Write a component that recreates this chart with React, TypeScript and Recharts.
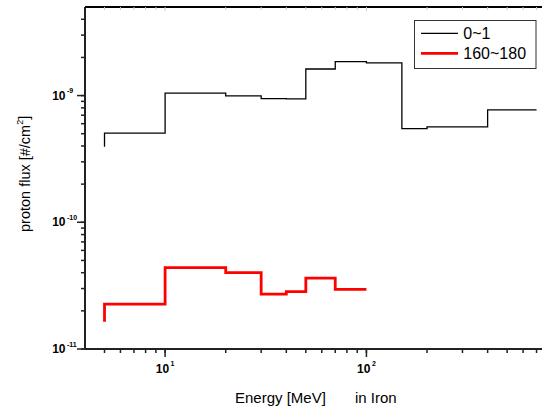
import React from 'react';
import { LineChart, Line, XAxis, YAxis, ReferenceLine } from 'recharts';

// ---- data ----
const energyBlack = [5, 10, 20, 30, 40, 50, 70, 100, 150, 200, 400, 700];
const fluxBlack = [3.94e-10, 5.05e-10, 1.045e-9, 0.995e-9, 0.947e-9, 0.942e-9, 1.62e-9, 1.85e-9, 1.81e-9, 5.49e-10, 5.66e-10, 7.71e-10];
const energyRed = [5, 10, 20, 30, 40, 50, 70, 100];
const fluxRed = [1.64e-11, 2.26e-11, 4.39e-11, 4.01e-11, 2.71e-11, 2.84e-11, 3.62e-11, 2.96e-11];
const seriesNames = ['0~1', '160~180'];
const seriesColors = ['#000000', '#ff0000'];
const seriesWidths = [1.3, 2.8];
const xTicks = [5, 6, 7, 8, 9, 10, 20, 30, 40, 50, 60, 70, 80, 90, 100, 200, 300, 400, 500, 600, 700];
const yTicks = [
  1e-11, 2e-11, 3e-11, 4e-11, 5e-11, 6e-11, 7e-11, 8e-11, 9e-11,
  1e-10, 2e-10, 3e-10, 4e-10, 5e-10, 6e-10, 7e-10, 8e-10, 9e-10,
  1e-9, 2e-9, 3e-9, 4e-9,
];
const xDomain = [4, 745];
const yDomain = [1e-11, 5e-9];
const xTitle = ['Energy [MeV]', 'in Iron'];
const yTitle = ['proton flux [#/cm', '2', ']'];

const blackData = energyBlack.map((e, i) => ({ e, f: fluxBlack[i] }));
const redData = energyRed.map((e, i) => ({ e, f: fluxRed[i] }));

const FONT = 'Liberation Sans, Arial, Helvetica, sans-serif';
const TICK_LEN = 4;

const isMajor = (v: number) => {
  const lg = Math.log10(v);
  return Math.abs(lg - Math.round(lg)) < 1e-6;
};

const XTick = (props: any) => {
  const { x, y, payload } = props;
  const v = payload.value;
  if (!isMajor(v)) return <g />;
  const e = Math.round(Math.log10(v));
  const axisY = y - TICK_LEN;
  return (
    <g>
      <rect x={x - 0.75} y={axisY} width={1.5} height={8} fill="#222" />
      <text x={x + 4} y={axisY + 24} textAnchor="end" fontSize={12} fontWeight="bold" fontFamily={FONT} fill="#000">
        10
      </text>
      <text x={x + 5.5} y={axisY + 16.5} textAnchor="start" fontSize={7} fontWeight="bold" fontFamily={FONT} fill="#000">
        {String(e)}
      </text>
    </g>
  );
};

const TopTick = (props: any) => {
  const { x, y, payload } = props;
  return (
    <g>
      <rect x={x - 0.5} y={y} width={1} height={isMajor(payload.value) ? 4 : 3} fill="#c8c8c8" />
    </g>
  );
};

const YTick = (props: any) => {
  const { x, y, payload } = props;
  const v = payload.value;
  if (!isMajor(v)) return <g />;
  const e = Math.round(Math.log10(v));
  const axisX = x + TICK_LEN;
  return (
    <g>
      <rect x={axisX - 8} y={y - 0.75} width={8} height={1.5} fill="#222" />
      <text x={axisX - 19.5} y={y + 4} textAnchor="end" fontSize={12} fontWeight="bold" fontFamily={FONT} fill="#000">
        10
      </text>
      <text x={axisX - 18} y={y - 2.5} textAnchor="start" fontSize={7} fontWeight="bold" fontFamily={FONT} fill="#000">
        {'-' + Math.abs(e)}
      </text>
    </g>
  );
};

export default function App() {
  return (
    <div style={{ position: 'absolute', left: 0, top: 0 }}>
      <LineChart width={542} height={412} margin={{ top: 6, right: 0, bottom: 0, left: 0 }}>
        <XAxis
          xAxisId="bottom"
          dataKey="e"
          type="number"
          scale="log"
          domain={xDomain}
          allowDataOverflow
          ticks={xTicks}
          interval={0}
          tick={<XTick />}
          tickLine={{ stroke: '#222', strokeWidth: 1.5 }}
          tickSize={TICK_LEN}
          tickMargin={0}
          height={63}
          axisLine={{ stroke: '#222', strokeWidth: 1.8 }}
        />
        <XAxis
          xAxisId="top"
          orientation="top"
          dataKey="e"
          type="number"
          scale="log"
          domain={xDomain}
          allowDataOverflow
          ticks={xTicks}
          interval={0}
          tick={<TopTick />}
          tickLine={false}
          tickSize={0}
          tickMargin={0}
          height={1}
          axisLine={{ stroke: '#000', strokeWidth: 1.8 }}
        />
        <YAxis
          type="number"
          scale="log"
          domain={yDomain}
          allowDataOverflow
          ticks={yTicks}
          interval={0}
          tick={<YTick />}
          tickLine={{ stroke: '#222', strokeWidth: 1.5 }}
          tickSize={TICK_LEN}
          tickMargin={0}
          width={85}
          axisLine={{ stroke: '#222', strokeWidth: 2 }}
        />
        <ReferenceLine xAxisId="bottom" y={yDomain[1]} stroke="#000" strokeWidth={1.8} ifOverflow="visible" />
        <Line
          xAxisId="bottom"
          data={blackData}
          dataKey="f"
          name={seriesNames[0]}
          type="stepBefore"
          stroke={seriesColors[0]}
          strokeWidth={seriesWidths[0]}
          dot={false}
          activeDot={false}
          isAnimationActive={false}
        />
        <Line
          xAxisId="bottom"
          data={redData}
          dataKey="f"
          name={seriesNames[1]}
          type="stepBefore"
          stroke={seriesColors[1]}
          strokeWidth={seriesWidths[1]}
          dot={false}
          activeDot={false}
          isAnimationActive={false}
        />
        {/* axis titles */}
        <text x={235} y={403} fontSize={15} fontFamily={FONT} fill="#000">
          {xTitle[0]}
        </text>
        <text x={355} y={403} fontSize={15} fontFamily={FONT} fill="#000">
          {xTitle[1]}
        </text>
        <text x={29.5} y={232} transform="rotate(-90 29.5 232)" fontSize={14.5} fontFamily={FONT} fill="#000">
          {yTitle[0]}
        </text>
        <text x={23.5} y={124.8} transform="rotate(-90 23.5 124.8)" fontSize={9} fontFamily={FONT} fill="#000">
          {yTitle[1]}
        </text>
        <text x={29.5} y={119.8} transform="rotate(-90 29.5 119.8)" fontSize={14.5} fontFamily={FONT} fill="#000">
          {yTitle[2]}
        </text>
        {/* legend */}
        <g transform="translate(414 20)">
          <rect x={0.5} y={0.5} width={121.5} height={48} fill="#fff" stroke="#333" strokeWidth={1} />
          {seriesNames.map((name, i) => (
            <g key={name}>
              <line x1={7} x2={44} y1={13.3 + 20 * i} y2={13.3 + 20 * i} stroke={seriesColors[i]} strokeWidth={seriesWidths[i]} />
              <text x={49.3} y={19.3 + 20 * i} fontSize={16} fontFamily={FONT} fill="#000">
                {name}
              </text>
            </g>
          ))}
        </g>
      </LineChart>
    </div>
  );
}
